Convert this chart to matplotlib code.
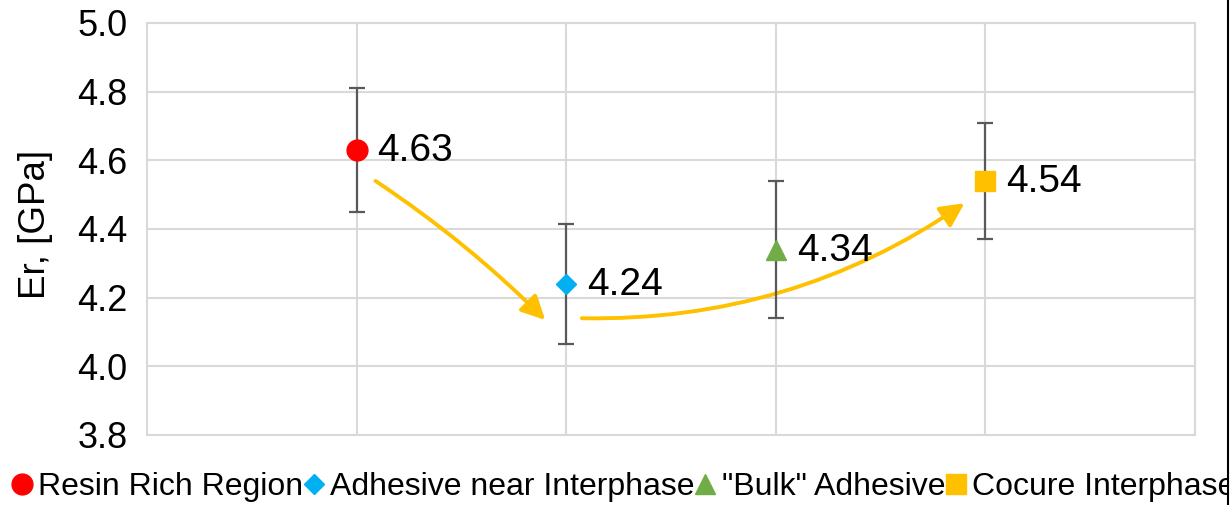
import matplotlib.pyplot as plt
from matplotlib.lines import Line2D
from matplotlib.patches import Rectangle

plt.rcParams['font.family'] = ['Liberation Sans', 'DejaVu Sans']

# Reduced modulus by region
regions = ['Resin Rich Region', 'Adhesive near Interphase', '"Bulk" Adhesive', 'Cocure Interphase']
er_mean = [4.63, 4.24, 4.34, 4.54]
er_err = [0.18, 0.175, 0.20, 0.17]
positions = [1, 2, 3, 4]

colors = ['#FF0000', '#00B0F0', '#70AD47', '#FFC000']
markers = ['o', 'D', '^', 's']
msizes = [15, 10.5, 15, 14.5]

fig = plt.figure(figsize=(12.32, 5.05), dpi=100)
ax = fig.add_axes([147 / 1232, 70 / 505, 1048 / 1232, 412 / 505])

for x, y, e, c, m, s in zip(positions, er_mean, er_err, colors, markers, msizes):
    ax.errorbar(x, y, yerr=e, fmt='none', ecolor='#595959', elinewidth=1.6,
                capsize=5.5, capthick=1.6, zorder=3)
    ax.plot(x, y, marker=m, color=c, markersize=s, linestyle='none', zorder=4)
    ax.annotate(f'{y:.2f}', (x, y), xytext=(15, -1), textcoords='offset points',
                ha='left', va='center', fontsize=28, zorder=5)

# trend arrows between regions
arrow_kw = dict(arrowstyle='-|>,head_length=0.6,head_width=0.3', color='#FFC000',
                lw=2.8, mutation_scale=24, shrinkA=0, shrinkB=0)
ax.annotate('', xy=(positions[1] - 0.10, er_mean[1] - 0.105),
            xytext=(positions[0] + 0.09, er_mean[0] - 0.09),
            arrowprops=dict(connectionstyle='arc3,rad=-0.05', **arrow_kw), zorder=2)
ax.annotate('', xy=(positions[3] - 0.10, er_mean[3] - 0.065),
            xytext=(positions[1] + 0.075, er_mean[1] - 0.10),
            arrowprops=dict(connectionstyle='arc3,rad=0.16', **arrow_kw), zorder=2)

ax.set_xlim(0, 5)
ax.set_ylim(3.8, 5.0)
ax.set_yticks([3.8, 4.0, 4.2, 4.4, 4.6, 4.8, 5.0])
ax.set_xticks([1, 2, 3, 4, 5])
ax.set_xticklabels([])
ax.grid(True, color='#D9D9D9', linewidth=1.5, zorder=0)
ax.set_axisbelow(True)
for sp in ax.spines.values():
    sp.set_color('#D9D9D9')
    sp.set_linewidth(1.5)
ax.tick_params(axis='both', length=0, labelsize=26, pad=14)

ax.set_ylabel('Er, [GPa]', fontsize=26.5)
ax.yaxis.set_label_coords(-0.09, 0.51)

handles = [Line2D([], [], marker=m, color=c, markersize=s, linestyle='none')
           for c, m, s in zip(colors, markers, msizes)]
fig.legend(handles, regions, loc='center left', bbox_to_anchor=(12.6 / 1232, 18 / 505),
           ncol=4, frameon=False, fontsize=23, handlelength=0.6, handletextpad=0.21,
           columnspacing=0.03, borderpad=0, borderaxespad=0)

# right border of the frame
fig.add_artist(Rectangle((1229 / 1232, 0), 3 / 1232, 1, transform=fig.transFigure,
                         facecolor='white', edgecolor='none', zorder=10))
fig.add_artist(Line2D([1228 / 1232, 1228 / 1232], [0, 1], transform=fig.transFigure,
                      color='black', linewidth=1.5, zorder=11))

fig.savefig('out.png', dpi=100)
